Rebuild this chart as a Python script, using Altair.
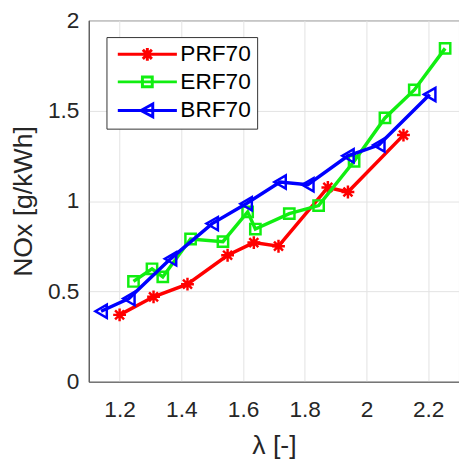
import altair as alt
import pandas as pd

# ---- data ----
series_names = ["PRF70", "ERF70", "BRF70"]
series_colors = ["#ff0000", "#11ee11", "#0000ff"]

prf_x = [1.20, 1.31, 1.42, 1.55, 1.635, 1.715, 1.875, 1.94, 2.12]
prf_y = [0.37, 0.47, 0.54, 0.70, 0.77, 0.75, 1.075, 1.05, 1.365]

erf_x = [1.245, 1.305, 1.34, 1.43, 1.535, 1.615, 1.64, 1.75, 1.845, 1.96, 2.06, 2.155, 2.255]
erf_y = [0.555, 0.625, 0.58, 0.79, 0.775, 0.94, 0.845, 0.93, 0.975, 1.22, 1.46, 1.615, 1.845]

brf_x = [1.14, 1.23, 1.365, 1.50, 1.61, 1.72, 1.81, 1.94, 2.04, 2.205]
brf_y = [0.39, 0.46, 0.68, 0.875, 0.985, 1.105, 1.09, 1.25, 1.31, 1.59]

x_ticks = [1.2, 1.4, 1.6, 1.8, 2.0, 2.2]
y_ticks = [0, 0.5, 1, 1.5, 2]

FONT = "Liberation Sans"

# marker shapes for plotted points
asterisk = "M-1,0L1,0M0,-1L0,1M-0.7,-0.7L0.7,0.7M-0.7,0.7L0.7,-0.7"
marker_shapes = [asterisk, "square", "triangle-left"]
marker_sizes = [170, 110, 180]

# legend symbols: line + marker
legend_paths = [
    "M-3,0L3,0M-0.65,0L0.65,0M0,-0.65L0,0.65M-0.46,-0.46L0.46,0.46M-0.46,0.46L0.46,-0.46",
    "M-3,0L3,0M-0.5,-0.5L0.5,-0.5L0.5,0.5L-0.5,0.5Z",
    "M-3,0L3,0M-0.65,0L0.55,-0.65L0.55,0.65Z",
]

xscale = alt.Scale(domain=[1.1, 2.3], nice=False, zero=False)
yscale = alt.Scale(domain=[0, 2], nice=False)
xaxis = alt.Axis(values=x_ticks, format="~g", title="λ [-]", ticks=False,
                 labelPadding=17, titlePadding=12)
yaxis = alt.Axis(values=y_ticks, format="~g", title="NOx [g/kWh]", ticks=False,
                 labelPadding=10, titlePadding=10)

layers = []
all_series = [(prf_x, prf_y), (erf_x, erf_y), (brf_x, brf_y)]
for k, (xs, ys) in enumerate(all_series):
    df = pd.DataFrame({"x": xs, "y": ys, "i": list(range(len(xs)))})
    base = alt.Chart(df).encode(
        x=alt.X("x:Q", scale=xscale, axis=xaxis),
        y=alt.Y("y:Q", scale=yscale, axis=yaxis),
        order="i:Q",
    )
    layers.append(base.mark_line(color=series_colors[k], strokeWidth=3.5))
    layers.append(base.mark_point(shape=marker_shapes[k], size=marker_sizes[k],
                                  color=series_colors[k], filled=False,
                                  strokeWidth=2.5, opacity=1))

leg = alt.Legend(title=None, orient="none", legendX=18, legendY=17,
                 strokeColor="#333333", fillColor="white", padding=6,
                 labelFont=FONT, labelFontSize=23, labelColor="black",
                 symbolSize=400, symbolStrokeWidth=3, rowPadding=4,
                 labelOffset=22, symbolOffset=24)

legend_layer = alt.Chart(pd.DataFrame({"series": series_names})).transform_filter(
    "false"
).mark_point(filled=False, strokeWidth=3, opacity=1).encode(
    color=alt.Color("series:N", scale=alt.Scale(domain=series_names, range=series_colors), legend=leg),
    shape=alt.Shape("series:N", scale=alt.Scale(domain=series_names, range=legend_paths), legend=leg),
)
layers.append(legend_layer)

chart = alt.layer(*layers).properties(
    width=376, height=367,
    padding={"left": 82, "top": 9, "right": 0, "bottom": 79},
    autosize="none",
).configure_view(stroke="#555555", strokeWidth=1).configure_axis(
    labelFont=FONT, titleFont=FONT, labelFontSize=23, titleFontSize=27,
    titleFontWeight="normal", labelColor="#262626", titleColor="#262626",
    gridColor="#e3e3e3", domainColor="#555555",
)

chart.save("out.html", embed_options={"renderer": "svg", "actions": False})
